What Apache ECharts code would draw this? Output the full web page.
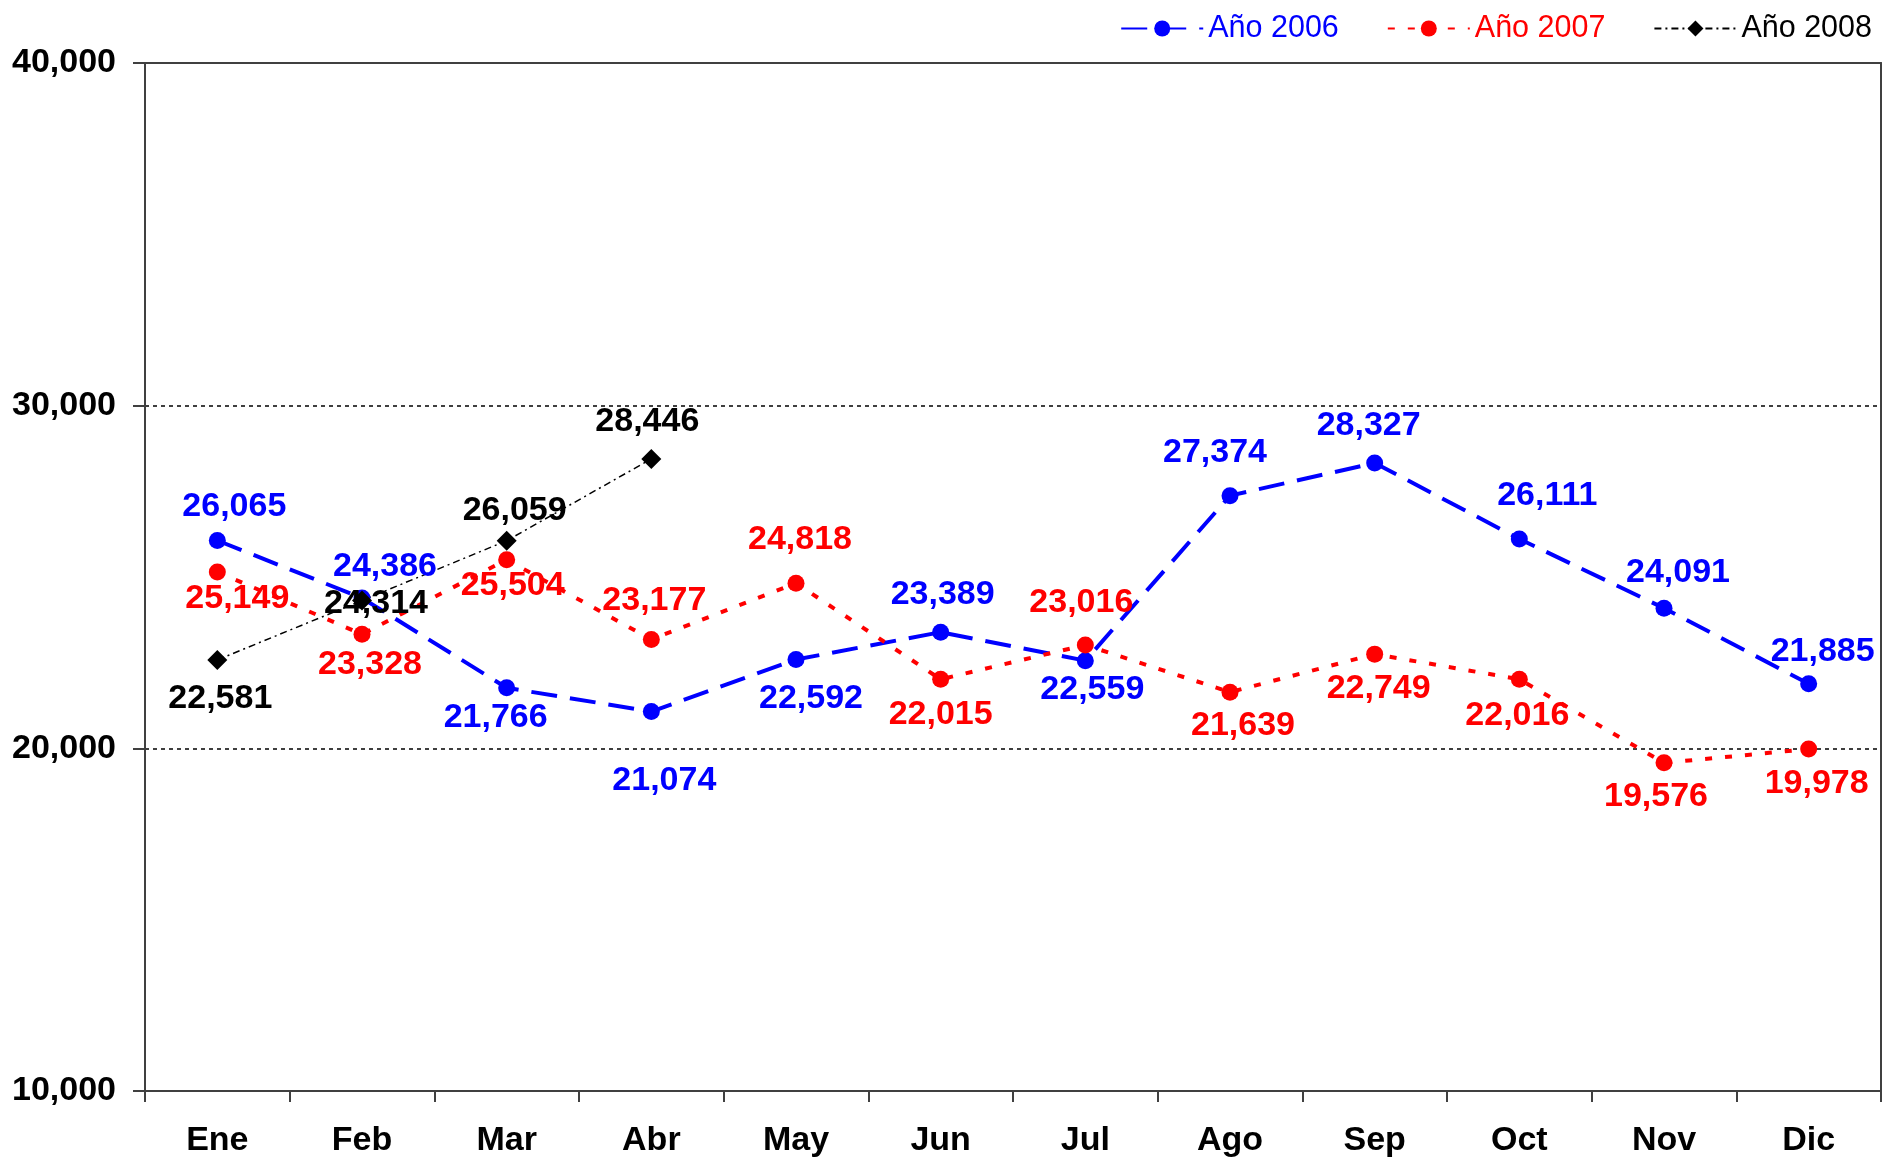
<!DOCTYPE html>
<html>
<head>
<meta charset="utf-8">
<script src="https://cdn.jsdelivr.net/npm/echarts@6/dist/echarts.min.js"></script>
<style>
html,body{margin:0;padding:0;background:#fff;}
#chart{width:1883px;height:1158px;}
</style>
</head>
<body>
<div id="chart"></div>
<script>
// ---- data ----
const months = ['Ene','Feb','Mar','Abr','May','Jun','Jul','Ago','Sep','Oct','Nov','Dic'];
const seriesNames = ['Año 2006','Año 2007','Año 2008'];
const values2006 = [26065,24386,21766,21074,22592,23389,22559,27374,28327,26111,24091,21885];
const values2007 = [25149,23328,25504,23177,24818,22015,23016,21639,22749,22016,19576,19978];
const values2008 = [22581,24314,26059,28446];
const yTicks = [10000,20000,30000,40000];

// ---- label placement (style, not data) ----
const off2006 = [[17,-34],[23,-31],[-11,30],[13,69],[15,39],[2,-38],[7,29],[-15,-43],[-6,-37],[28,-43],[14,-36],[14,-32]];
const off2007 = [[20,27],[8,30],[6,26],[3,-39],[4,-44],[0,35],[-4,-42],[13,33],[4,34],[-2,36],[-8,34],[8,35]];
const off2008 = [[3,39],[14,3],[8,-30],[-4,-37]];

const fmt = v => v.toLocaleString('en-US');
const FONT = '"Liberation Sans", Arial, sans-serif';

function mkData(vals, offs){
  return vals.map((v,i)=>({value:v, label:{offset:offs[i]}}));
}
function mkSeries(name, vals, offs, color, lineType, width, symbol, symSize){
  return {
    name: name, type:'line', data: mkData(vals, offs),
    symbol: symbol, symbolSize: symSize,
    lineStyle:{color:color, width:width, type:lineType},
    itemStyle:{color:color},
    label:{show:true, position:'inside', color:color, fontFamily:FONT, fontWeight:'bold', fontSize:34,
      formatter: p => fmt(p.value)},
    emphasis:{disabled:true},
    animation:false
  };
}

const chart = echarts.init(document.getElementById('chart'));
chart.setOption({
  backgroundColor:'#ffffff',
  animation:false,
  grid:{left:145, top:63, right:2, bottom:67, containLabel:false},
  legend:{
    top:8, right:6, itemWidth:82, itemHeight:20, itemGap:48,
    textStyle:{fontFamily:FONT, fontSize:30.5},
    data:[
      {name:seriesNames[0], textStyle:{color:'#0000ff'}},
      {name:seriesNames[1], textStyle:{color:'#ff0000'}},
      {name:seriesNames[2], textStyle:{color:'#000000'}}
    ]
  },
  xAxis:[{
    type:'category', data:months, boundaryGap:true,
    axisLine:{lineStyle:{color:'#404040', width:2}},
    axisTick:{show:true, length:11, lineStyle:{color:'#404040', width:2}},
    axisLabel:{color:'#000', fontFamily:FONT, fontWeight:'bold', fontSize:34, margin:33},
    splitLine:{show:false}
  },{
    type:'category', data:months, position:'top', boundaryGap:true,
    axisLine:{show:true, lineStyle:{color:'#404040', width:2}},
    axisTick:{show:false}, axisLabel:{show:false}, splitLine:{show:false}
  }],
  yAxis:[{
    type:'value', min:yTicks[0], max:yTicks[yTicks.length-1], interval:yTicks[1]-yTicks[0],
    axisLine:{show:true, lineStyle:{color:'#404040', width:2}},
    axisTick:{show:true, length:12, lineStyle:{color:'#404040', width:2}},
    axisLabel:{color:'#000', fontFamily:FONT, fontWeight:'bold', fontSize:34, margin:29,
      formatter: v => fmt(v)},
    splitLine:{show:true, lineStyle:{color:'#000', width:1.5, type:[4,4]}}
  },{
    type:'value', min:yTicks[0], max:yTicks[yTicks.length-1], interval:yTicks[1]-yTicks[0],
    position:'right',
    axisLine:{show:true, lineStyle:{color:'#404040', width:2}},
    axisTick:{show:false}, axisLabel:{show:false}, splitLine:{show:false}
  }],
  series:[
    mkSeries(seriesNames[0], values2006, off2006, '#0000ff', [26,13], 4, 'circle', 17),
    mkSeries(seriesNames[1], values2007, off2007, '#ff0000', [7,13], 4, 'circle', 17),
    mkSeries(seriesNames[2], values2008, off2008, '#000000', [7,4,2,4], 1.5, 'diamond', 20)
  ]
});
</script>
</body>
</html>
